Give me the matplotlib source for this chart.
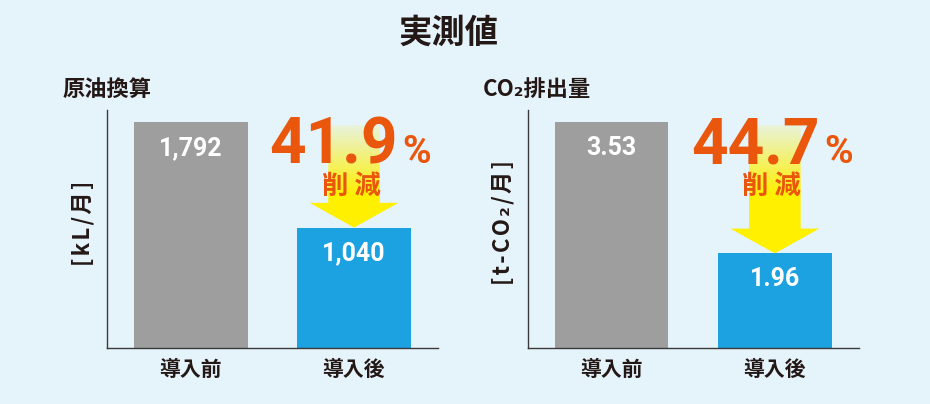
import matplotlib
matplotlib.use('Agg')
import matplotlib.pyplot as plt
import numpy as np
from matplotlib.patches import Polygon

# ---------------- data ----------------
chart_title = "実測値"
categories = ["導入前", "導入後"]
panel_titles = ["原油換算", "CO₂排出量"]
unit_labels = ["[kL/月]", "[t-CO₂/月]"]
oil_values = [1792, 1040]
co2_values = [3.53, 1.96]
oil_labels = ["1,792", "1,040"]
co2_labels = ["3.53", "1.96"]
reduction_pct = ["41.9", "44.7"]
reduction_word = "削 減"

# ---------------- style ----------------
W, H, DPI = 930, 404, 100
BG = "#e5f3fb"
GRAY = "#9e9e9e"
BLUE = "#1ca1e1"
ORANGE = "#e9560c"
YELLOW = (1.0, 0.945, 0.0)
DARK = "#231815"
JP = ["Noto Sans CJK JP", "DejaVu Sans"]
NUM = ["Roboto", "Noto Sans CJK JP", "DejaVu Sans"]

plt.rcParams['font.family'] = JP

fig = plt.figure(figsize=(W / DPI, H / DPI), dpi=DPI, facecolor=BG)


def fx(x):
    return x / W


def fy(y):
    return 1 - y / H


def spaced(s, sep="\u200a"):
    return sep.join(list(s))


panels = [
    dict(left=107.3, right=438.0, values=oil_values, labels=oil_labels,
         ylim=(178, 1880), pct=reduction_pct[0], pct_right=398, word_x=351.5,
         title_x=63, unit_x=83),
    dict(left=527.7, right=859.0, values=co2_values, labels=co2_labels,
         ylim=(0.823, 3.678), pct=reduction_pct[1], pct_right=820, word_x=771.7,
         title_x=483, unit_x=503),
]

ax_top, ax_bot = 110.0, 348.3

fig.text(fx(449), fy(33), chart_title, ha='center', va='center',
         fontsize=24, fontweight='bold', color=DARK)

for i, p in enumerate(panels):
    ax = fig.add_axes([fx(p['left']), fy(ax_bot), (p['right'] - p['left']) / W,
                       (ax_bot - ax_top) / H])
    ax.set_facecolor('none')
    x = np.arange(len(categories))
    ax.bar(x, p['values'], width=0.696, color=[GRAY, BLUE], zorder=2)
    ax.set_xlim(-0.513, 1.515)
    ymin, ymax = p['ylim']
    ax.set_ylim(ymin, ymax)
    span = ymax - ymin
    for s in ['top', 'right']:
        ax.spines[s].set_visible(False)
    for s in ['left', 'bottom']:
        ax.spines[s].set_color('#3a3a3a')
        ax.spines[s].set_linewidth(1.0)
        ax.spines[s].set_zorder(3)
    ax.set_yticks([])
    ax.set_xticks(x)
    ax.set_xticklabels(categories, fontsize=15, fontweight='bold', color=DARK)
    ax.tick_params(axis='x', length=0, pad=8)

    # value labels inside bars
    for xi, v, lab in zip(x, p['values'], p['labels']):
        ax.annotate(lab, (xi, v), xytext=(0, -23.5), textcoords='offset points',
                    ha='center', va='baseline', fontsize=18, fontweight='bold',
                    color='white', family=NUM, zorder=4)

    # gradient arrow from before-value down to after-value
    v0, v1 = p['values']
    xc = x[1]
    shaft_hw, head_hw = 0.158, 0.272
    head_len = 0.104 * span
    top = v0 - 0.012 * span
    tip = v1
    base = v1 + head_len
    verts = [(xc - shaft_hw, top), (xc + shaft_hw, top), (xc + shaft_hw, base),
             (xc + head_hw, base), (xc, tip), (xc - head_hw, base),
             (xc - shaft_hw, base)]
    poly = Polygon(verts, closed=True, facecolor='none', edgecolor='none',
                   transform=ax.transData)
    ax.add_patch(poly)
    n = 200
    ys = np.linspace(top, tip, n)
    ramp = 0.29 * span
    alpha = np.clip(0.12 + 0.88 * (top - ys) / ramp, 0, 1)
    img = np.zeros((n, 2, 4))
    img[..., 0] = YELLOW[0]
    img[..., 1] = YELLOW[1]
    img[..., 2] = YELLOW[2]
    img[..., 3] = alpha[:, None]
    im = ax.imshow(img, extent=(xc - head_hw, xc + head_hw, tip, top),
                   origin='upper', aspect='auto', zorder=3, interpolation='bilinear')
    im.set_clip_path(poly)
    ax.set_xlim(-0.513, 1.515)
    ax.set_ylim(ymin, ymax)

    # reduction text
    fig.text(fx(p['pct_right']), fy(163), p['pct'], ha='right', va='baseline',
             fontsize=46, fontweight='bold', color=ORANGE, family=NUM)
    fig.text(fx(p['pct_right'] + 4), fy(163), "%", ha='left', va='baseline',
             fontsize=28, fontweight='bold', color=ORANGE, family=NUM)
    fig.text(fx(p['word_x']), fy(186), reduction_word, ha='center', va='center',
             fontsize=19, fontweight='bold', color=ORANGE)

    # panel title and unit
    fig.text(fx(p['title_x']), fy(89), panel_titles[i], ha='left', va='center',
             fontsize=16, fontweight='bold', color=DARK)
    fig.text(fx(p['unit_x']), fy(223), spaced(unit_labels[i]), ha='center',
             va='center', rotation=90, fontsize=16, fontweight='bold', color=DARK)

fig.savefig('out.png', dpi=DPI, facecolor=BG)
